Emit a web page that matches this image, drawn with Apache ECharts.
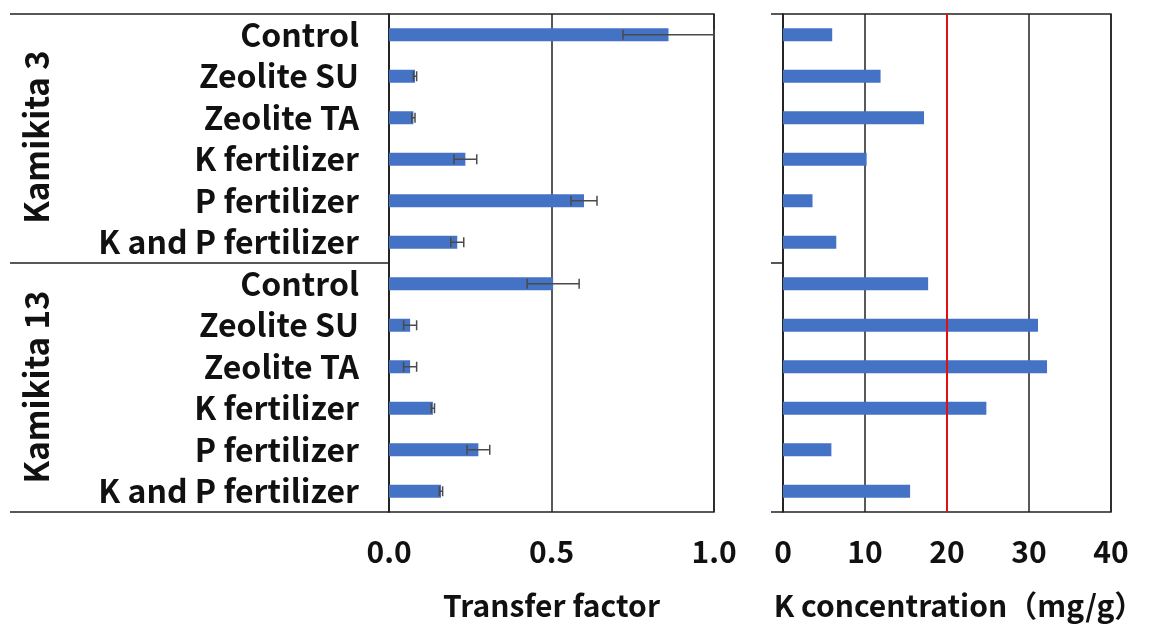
<!DOCTYPE html>
<html>
<head>
<meta charset="UTF-8">
<title>Transfer factor and K concentration</title>
<script src="https://cdn.jsdelivr.net/npm/echarts@6/dist/echarts.min.js"></script>
<style>
  html, body { margin: 0; padding: 0; background: #fff; }
  #chart { width: 1157px; height: 630px; }
</style>
</head>
<body>
<div id="chart"></div>
<script>
var treatments = ['Control', 'Zeolite SU', 'Zeolite TA', 'K fertilizer', 'P fertilizer', 'K and P fertilizer'];
var categories = treatments.concat(treatments);
var groups = ['Kamikita 3', 'Kamikita 13'];

// transfer factor (mean) and error, Kamikita 3 then Kamikita 13
var transfer    = [0.86, 0.08, 0.075, 0.235, 0.60, 0.21, 0.505, 0.065, 0.065, 0.135, 0.275, 0.16];
var transferErr = [0.14, 0.005, 0.005, 0.035, 0.04, 0.02, 0.08, 0.02, 0.02, 0.005, 0.035, 0.005];
// K concentration (mg/g)
var kConc = [6.0, 11.9, 17.2, 10.2, 3.6, 6.5, 17.7, 31.1, 32.2, 24.8, 5.9, 15.5];

var leftTicks = [0, 0.5, 1.0];
var rightTicks = [0, 10, 20, 30, 40];
var kLimit = 20;

var FONT = '"Noto Sans CJK JP", "Noto Sans", sans-serif';
var BLUE = '#4472c4';
var LINE = '#222';

var errData = transfer.map(function (v, i) {
    return [v - transferErr[i], v + transferErr[i], i];
});

var tickFont = {fontSize: 30, color: '#111', fontFamily: FONT, fontWeight: 600};

var chart = echarts.init(document.getElementById('chart'));

chart.setOption({
    animation: false,
    grid: [
        {left: 389, width: 325, top: 14, height: 498, show: true, borderColor: LINE, borderWidth: 1.5},
        {left: 783, width: 328, top: 14, height: 498, show: true, borderColor: LINE, borderWidth: 1.5}
    ],
    xAxis: [{
        gridIndex: 0,
        type: 'value',
        min: leftTicks[0],
        max: leftTicks[leftTicks.length - 1],
        interval: 0.5,
        axisLine: {show: false},
        axisTick: {show: false},
        splitLine: {show: true, lineStyle: {color: LINE, width: 1.5}},
        axisLabel: Object.assign({margin: 25, formatter: function (v) { return v.toFixed(1); }}, tickFont),
        name: 'Transfer factor',
        nameLocation: 'middle',
        nameGap: 79,
        nameTextStyle: tickFont
    }, {
        gridIndex: 1,
        type: 'value',
        min: rightTicks[0],
        max: rightTicks[rightTicks.length - 1],
        interval: 10,
        axisLine: {show: false},
        axisTick: {show: false},
        splitLine: {show: true, lineStyle: {color: LINE, width: 1.5}},
        axisLabel: Object.assign({margin: 25}, tickFont),
        name: 'K concentration（mg/g）',
        nameLocation: 'middle',
        nameGap: 79,
        nameTextStyle: Object.assign({padding: [0, 0, 0, 24]}, tickFont)
    }],
    yAxis: [{
        gridIndex: 0,
        type: 'category',
        inverse: true,
        data: categories,
        axisLine: {show: true, lineStyle: {color: LINE, width: 1.5}},
        axisTick: {
            show: true,
            length: 379,
            interval: function (index) { return index % 6 === 0; },
            lineStyle: {color: LINE, width: 1.5}
        },
        axisLabel: {
            interval: 0, margin: 30, fontSize: 32, fontWeight: 'bold', color: '#111', fontFamily: FONT
        }
    }, {
        gridIndex: 1,
        type: 'category',
        inverse: true,
        data: categories,
        axisLine: {show: true, lineStyle: {color: LINE, width: 1.5}},
        axisTick: {
            show: true,
            length: 12,
            interval: function (index) { return index % 6 === 0; },
            lineStyle: {color: LINE, width: 1.5}
        },
        axisLabel: {show: false}
    }],
    graphic: [{
        type: 'text', x: 36, y: 137, rotation: Math.PI / 2,
        style: {text: groups[0], font: 'bold 33px ' + FONT, fill: '#111', align: 'center', verticalAlign: 'middle'}
    }, {
        type: 'text', x: 36, y: 387, rotation: Math.PI / 2,
        style: {text: groups[1], font: 'bold 33px ' + FONT, fill: '#111', align: 'center', verticalAlign: 'middle'}
    }],
    series: [{
        type: 'bar',
        xAxisIndex: 0,
        yAxisIndex: 0,
        data: transfer,
        barWidth: 13,
        itemStyle: {color: BLUE}
    }, {
        type: 'custom',
        xAxisIndex: 0,
        yAxisIndex: 0,
        data: errData,
        encode: {x: [0, 1], y: 2},
        z: 5,
        renderItem: function (params, api) {
            var lo = api.coord([api.value(0), api.value(2)]);
            var hi = api.coord([api.value(1), api.value(2)]);
            var h = 5;
            var style = {stroke: '#4a4a4a', lineWidth: 1.5};
            return {
                type: 'group',
                children: [
                    {type: 'line', shape: {x1: lo[0], y1: lo[1], x2: hi[0], y2: hi[1]}, style: style},
                    {type: 'line', shape: {x1: lo[0], y1: lo[1] - h, x2: lo[0], y2: lo[1] + h}, style: style},
                    {type: 'line', shape: {x1: hi[0], y1: hi[1] - h, x2: hi[0], y2: hi[1] + h}, style: style}
                ]
            };
        }
    }, {
        type: 'bar',
        xAxisIndex: 1,
        yAxisIndex: 1,
        data: kConc,
        barWidth: 13,
        itemStyle: {color: BLUE},
        markLine: {
            silent: true,
            symbol: 'none',
            label: {show: false},
            lineStyle: {color: '#e01010', type: 'solid', width: 2},
            data: [{xAxis: kLimit}]
        }
    }]
});
</script>
</body>
</html>
